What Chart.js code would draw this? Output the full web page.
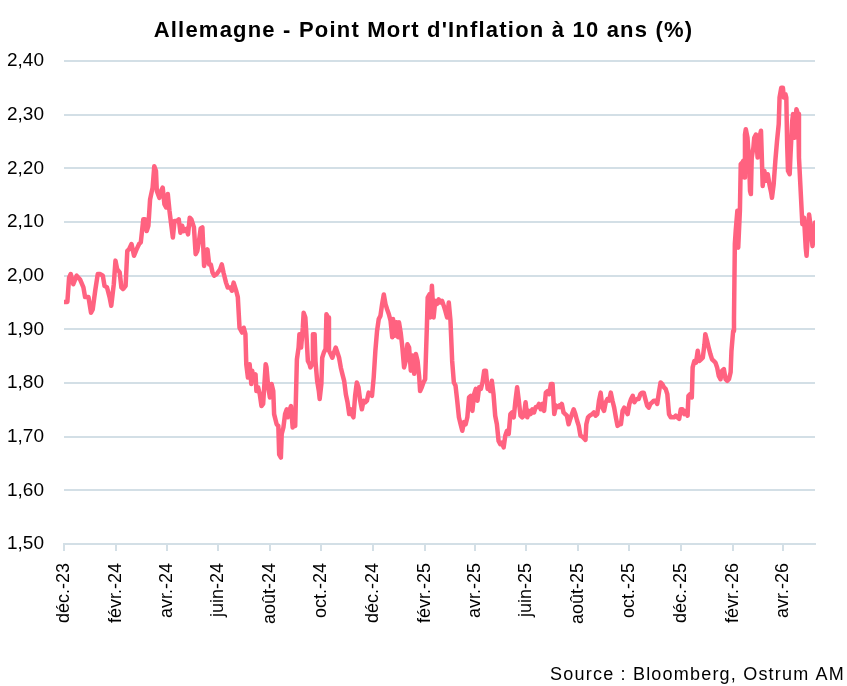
<!DOCTYPE html>
<html lang="fr">
<head>
<meta charset="utf-8">
<title>Allemagne - Point Mort d'Inflation à 10 ans (%)</title>
<script src="https://cdn.jsdelivr.net/npm/chart.js@4.4.1/dist/chart.umd.min.js"></script>
<style>
  html, body { margin: 0; padding: 0; background: #fff; }
  #wrap { width: 847px; height: 686px; }
</style>
</head>
<body>
<div id="wrap"><canvas id="chart"></canvas></div>
<script>
// Données : jours depuis le 1er déc. 2023, point mort en %
const dateDebut = "2023-12-01";
const dateFin = "2026-05-09";

const jours = [
  0, 2, 4, 6, 8, 11, 15, 19, 23, 25, 29, 32, 34, 37, 40, 43, 46, 48, 51, 54, 56, 59, 61, 63, 66, 68, 70, 73, 75, 77,
  80, 83, 86, 89, 91, 94, 96, 98, 100, 102, 105, 107, 109, 110, 113, 115, 117, 119, 121, 123, 125, 127, 129, 131, 134, 136, 138, 140, 142, 145,
  147, 149, 151, 154, 156, 158, 160, 162, 164, 166, 170, 172, 174, 176, 178, 181, 185, 187, 189, 192, 194, 197, 199, 201, 204, 206, 208, 211, 213, 215,
  216, 218, 220, 222, 223, 225, 227, 228, 230, 232, 234, 236, 239, 240, 242, 244, 246, 248, 249, 252, 254, 255, 257, 258, 260, 262, 264, 265, 267, 269,
  271, 272, 274, 276, 278, 279, 281, 283, 284, 286, 287, 289, 291, 292, 294, 295, 297, 298, 300, 302, 303, 305, 306, 308, 310, 311, 313, 314, 316, 318,
  320, 322, 324, 326, 328, 330, 332, 334, 336, 338, 340, 341, 343, 345, 347, 349, 351, 353, 355, 357, 359, 361, 363, 365, 367, 369, 371, 373, 375, 377,
  379, 381, 383, 385, 387, 389, 390, 392, 394, 396, 397, 399, 401, 403, 405, 407, 409, 411, 413, 415, 417, 419, 421, 422, 424, 426, 428, 430, 431, 433,
  434, 436, 438, 440, 442, 444, 446, 448, 450, 452, 454, 456, 458, 460, 462, 464, 466, 468, 470, 472, 474, 476, 478, 480, 482, 484, 486, 488, 490, 492,
  494, 496, 498, 500, 502, 503, 505, 507, 509, 511, 513, 515, 517, 519, 521, 523, 525, 527, 529, 531, 533, 535, 537, 539, 541, 543, 545, 547, 549, 551,
  553, 555, 557, 559, 561, 563, 565, 567, 569, 571, 573, 575, 577, 579, 581, 583, 585, 587, 588, 590, 592, 594, 596, 598, 600, 602, 604, 606, 608, 610,
  612, 615, 618, 619, 621, 623, 626, 628, 630, 632, 634, 636, 638, 640, 642, 644, 646, 648, 650, 652, 654, 656, 658, 660, 662, 664, 666, 668, 670, 672,
  674, 676, 677, 679, 681, 683, 685, 687, 689, 691, 693, 695, 697, 699, 701, 703, 705, 707, 709, 711, 713, 715, 717, 719, 721, 723, 725, 727, 729, 731,
  733, 735, 737, 739, 740, 742, 744, 745, 747, 749, 751, 753, 755, 757, 759, 760, 762, 764, 766, 768, 770, 772, 774, 776, 778, 780, 782, 784, 786, 788,
  790, 791, 793, 794, 795, 796, 798, 799, 801, 802, 804, 805, 806, 807, 808, 810, 812, 813, 814, 815, 817, 818, 820, 822, 823, 824, 826, 827, 828, 830,
  832, 834, 836, 838, 839, 841, 843, 845, 847, 848, 850, 852, 853, 855, 856, 857, 858, 860, 861, 863, 864, 866, 867, 868, 870, 871, 873, 875, 877, 879,
  880, 882, 883, 885, 887, 888, 890
];

const valeurs = [
  1.951, 1.951, 1.951, 1.996, 2.003, 1.984, 2.000, 1.993, 1.978, 1.960, 1.960, 1.931, 1.937, 1.972, 2.003, 2.003, 2.000, 1.981, 1.978, 1.960, 1.944, 1.984, 2.028, 2.012, 2.006, 1.978, 1.975, 1.981, 2.046, 2.049,
  2.059, 2.037, 2.049, 2.059, 2.062, 2.105, 2.105, 2.083, 2.093, 2.142, 2.164, 2.204, 2.195, 2.158, 2.145, 2.158, 2.164, 2.133, 2.127, 2.152, 2.121, 2.096, 2.071, 2.102, 2.102, 2.105, 2.080, 2.093, 2.083, 2.087,
  2.077, 2.108, 2.105, 2.090, 2.040, 2.046, 2.065, 2.088, 2.090, 2.018, 2.049, 2.021, 2.021, 2.006, 2.000, 2.003, 2.012, 2.021, 2.006, 1.987, 1.978, 1.978, 1.972, 1.987, 1.972, 1.960, 1.903, 1.894, 1.903, 1.891,
  1.835, 1.810, 1.835, 1.798, 1.823, 1.804, 1.816, 1.785, 1.792, 1.779, 1.757, 1.761, 1.835, 1.829, 1.792, 1.773, 1.798, 1.785, 1.742, 1.723, 1.720, 1.667, 1.661, 1.705, 1.717, 1.742, 1.751, 1.736, 1.748, 1.757,
  1.717, 1.723, 1.720, 1.844, 1.866, 1.891, 1.866, 1.903, 1.931, 1.922, 1.897, 1.841, 1.835, 1.829, 1.835, 1.891, 1.891, 1.841, 1.804, 1.785, 1.770, 1.798, 1.847, 1.857, 1.863, 1.928, 1.922, 1.860, 1.854, 1.847,
  1.857, 1.866, 1.857, 1.847, 1.829, 1.816, 1.804, 1.779, 1.764, 1.742, 1.751, 1.742, 1.736, 1.776, 1.801, 1.792, 1.767, 1.751, 1.767, 1.764, 1.767, 1.782, 1.779, 1.776, 1.810, 1.860, 1.897, 1.919, 1.925, 1.947,
  1.965, 1.947, 1.937, 1.928, 1.916, 1.885, 1.919, 1.888, 1.913, 1.885, 1.913, 1.894, 1.866, 1.829, 1.841, 1.872, 1.866, 1.823, 1.851, 1.817, 1.854, 1.841, 1.810, 1.785, 1.792, 1.801, 1.807, 1.903, 1.959, 1.965,
  1.922, 1.981, 1.922, 1.953, 1.947, 1.956, 1.950, 1.953, 1.944, 1.934, 1.922, 1.950, 1.916, 1.841, 1.801, 1.795, 1.767, 1.736, 1.723, 1.711, 1.727, 1.723, 1.736, 1.773, 1.776, 1.748, 1.779, 1.789, 1.767, 1.792,
  1.789, 1.801, 1.823, 1.823, 1.789, 1.798, 1.785, 1.804, 1.779, 1.739, 1.723, 1.692, 1.686, 1.689, 1.680, 1.702, 1.711, 1.705, 1.742, 1.745, 1.736, 1.767, 1.792, 1.767, 1.739, 1.736, 1.739, 1.764, 1.736, 1.748,
  1.742, 1.751, 1.745, 1.755, 1.755, 1.761, 1.751, 1.761, 1.748, 1.782, 1.785, 1.779, 1.798, 1.798, 1.742, 1.758, 1.755, 1.758, 1.755, 1.761, 1.745, 1.742, 1.739, 1.723, 1.733, 1.742, 1.751, 1.742, 1.730, 1.720,
  1.702, 1.699, 1.694, 1.723, 1.736, 1.739, 1.742, 1.745, 1.739, 1.742, 1.767, 1.782, 1.754, 1.748, 1.764, 1.770, 1.767, 1.782, 1.767, 1.754, 1.736, 1.720, 1.723, 1.723, 1.748, 1.754, 1.748, 1.742, 1.761, 1.770,
  1.776, 1.764, 1.767, 1.770, 1.770, 1.779, 1.782, 1.782, 1.770, 1.758, 1.754, 1.761, 1.764, 1.767, 1.767, 1.761, 1.782, 1.801, 1.798, 1.792, 1.789, 1.779, 1.742, 1.736, 1.736, 1.736, 1.739, 1.736, 1.733, 1.751,
  1.751, 1.742, 1.748, 1.739, 1.776, 1.779, 1.773, 1.829, 1.841, 1.838, 1.860, 1.841, 1.844, 1.847, 1.872, 1.891, 1.879, 1.866, 1.854, 1.844, 1.841, 1.838, 1.829, 1.813, 1.807, 1.823, 1.826, 1.807, 1.804, 1.807,
  1.820, 1.860, 1.897, 1.922, 2.059, 2.083, 2.121, 2.052, 2.121, 2.208, 2.211, 2.214, 2.183, 2.263, 2.273, 2.257, 2.208, 2.158, 2.152, 2.220, 2.239, 2.257, 2.263, 2.220, 2.239, 2.257, 2.270, 2.220, 2.167, 2.195,
  2.177, 2.189, 2.170, 2.155, 2.145, 2.170, 2.214, 2.251, 2.282, 2.332, 2.350, 2.350, 2.332, 2.338, 2.332, 2.245, 2.195, 2.189, 2.226, 2.288, 2.301, 2.257, 2.295, 2.310, 2.301, 2.220, 2.158, 2.096, 2.108, 2.052,
  2.037, 2.090, 2.114, 2.090, 2.055, 2.065, 2.099
];

// Graduations de l'axe des dates
const ticksDates = [
  "2023-12-01", "2024-02-01", "2024-04-01", "2024-06-01", "2024-08-01", "2024-10-01", "2024-12-01",
  "2025-02-01", "2025-04-01", "2025-06-01", "2025-08-01", "2025-10-01", "2025-12-01", "2026-02-01", "2026-04-01"
];
const ticksLabels = [
  "déc.-23", "févr.-24", "avr.-24", "juin-24", "août-24", "oct.-24", "déc.-24",
  "févr.-25", "avr.-25", "juin-25", "août-25", "oct.-25", "déc.-25", "févr.-26", "avr.-26"
];

const titre = "Allemagne - Point Mort d'Inflation à 10 ans (%)";
const source = "Source : Bloomberg, Ostrum AM";

// Config
const police = "'Liberation Sans', Arial, sans-serif";
const couleurGrille = "#D3DFE6";
const couleurLigne = "#FF6280";

const jourDe = (d) => (Date.parse(d) - Date.parse(dateDebut)) / 86400000;
const ticksJours = ticksDates.map(jourDe);

// Titre et source dessinés sur le canvas
const textesPlugin = {
  id: "textes",
  afterDraw(chart) {
    const ctx = chart.ctx;
    ctx.save();
    ctx.fillStyle = "#000";
    ctx.textBaseline = "alphabetic";
    ctx.font = `bold 22px ${police}`;
    ctx.letterSpacing = "1.2px";
    ctx.textAlign = "center";
    ctx.fillText(titre, chart.width / 2, 37);
    ctx.font = `18px ${police}`;
    ctx.letterSpacing = "1.2px";
    ctx.textAlign = "right";
    ctx.fillText(source, chart.width - 2, 680);
    ctx.restore();
  },
};

const ctx = document.getElementById("chart").getContext("2d");
new Chart(ctx, {
  type: "line",
  data: {
    datasets: [
      {
        data: jours.map((j, i) => ({ x: j, y: valeurs[i] })),
        borderColor: couleurLigne,
        borderWidth: 4.5,
        borderJoinStyle: "round",
        borderCapStyle: "round",
        pointRadius: 0,
        tension: 0,
        fill: false,
      },
    ],
  },
  options: {
    responsive: true,
    maintainAspectRatio: false,
    animation: false,
    layout: { padding: { left: 6, right: 32, top: 61, bottom: 50 } },
    plugins: {
      legend: { display: false },
      tooltip: { enabled: false },
      title: { display: false },
    },
    scales: {
      x: {
        type: "linear",
        min: 0,
        max: jourDe(dateFin),
        afterBuildTicks: (scale) => {
          scale.ticks = ticksJours.map((v) => ({ value: v }));
        },
        ticks: {
          autoSkip: false,
          maxRotation: 90,
          minRotation: 90,
          padding: 12,
          color: "#000",
          font: { family: police, size: 18 },
          callback: (v, i) => ticksLabels[i],
        },
        grid: {
          drawOnChartArea: false,
          drawTicks: true,
          tickLength: 7,
          color: couleurGrille,
          lineWidth: 2,
        },
        border: { display: true, color: couleurGrille, width: 2 },
      },
      y: {
        min: 1.5,
        max: 2.4,
        afterFit: (scale) => {
          scale.width = 58;
        },
        ticks: {
          stepSize: 0.1,
          padding: 20,
          color: "#000",
          font: { family: police, size: 19 },
          callback: (v) => v.toFixed(2).replace(".", ","),
        },
        grid: { color: couleurGrille, lineWidth: 2, drawTicks: false },
        border: { display: false },
      },
    },
  },
  plugins: [textesPlugin],
});
</script>
</body>
</html>
